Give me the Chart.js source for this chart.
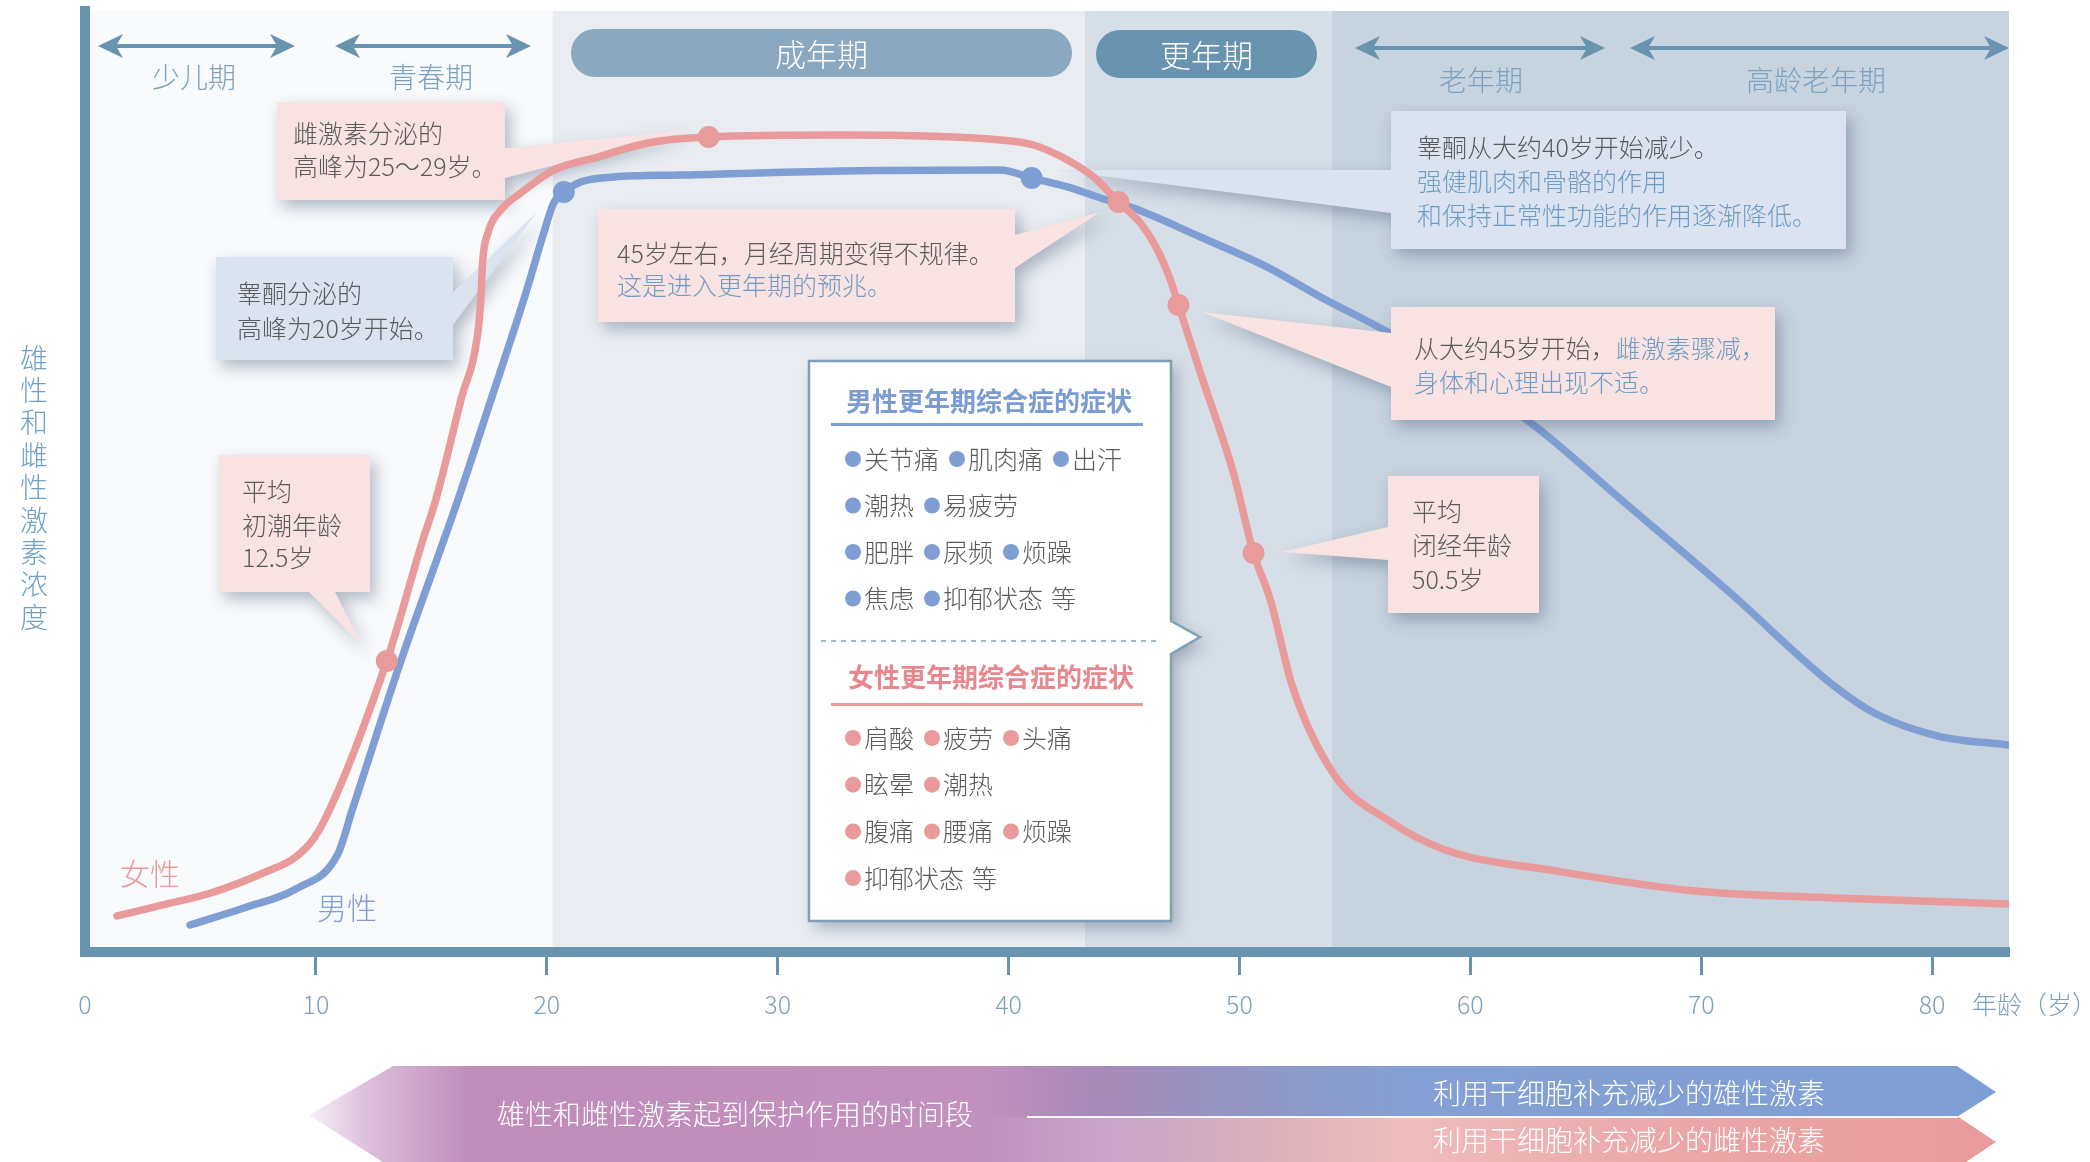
<!DOCTYPE html>
<html><head><meta charset="utf-8">
<script src="https://cdn.jsdelivr.net/npm/chart.js@4.4.0/dist/chart.umd.min.js"></script>
<style>html,body{margin:0;padding:0;background:#fff;overflow:hidden}#wrap{width:2090px;height:1162px;position:relative}</style>
</head><body><div id="wrap"><canvas id="c" width="2090" height="1162"></canvas></div>
<script>
// ---------------- data ----------------
const xTicks = [0, 10, 20, 30, 40, 50, 60, 70, 80];
const femaleAge   = [1.39, 3.33, 5.45, 7.92, 9.13, 10.17, 13.07, 14.59, 15.19, 16.28, 17.01, 17.14, 17.23, 17.45, 18.01, 18.87, 20.30, 22.21, 24.37, 27.01, 32.81, 39.65, 41.08, 42.55, 43.68, 44.76, 45.71, 46.45, 47.01, 47.36, 48.31, 49.74, 50.61, 51.34, 52.29, 54.11, 56.49, 58.92, 63.72, 69.74, 75.76, 83.29];
const femaleLevel = [3.83, 4.99, 6.27, 8.61, 10.10, 13.07, 30.92, 43.46, 48.03, 58.66, 65.78, 69.29, 73.54, 76.41, 78.85, 80.66, 83.10, 84.48, 85.97, 86.61, 86.82, 86.29, 85.76, 84.17, 82.36, 79.70, 77.47, 74.60, 71.41, 68.76, 61.53, 50.90, 42.40, 37.41, 28.27, 18.81, 13.92, 10.84, 8.61, 6.48, 5.74, 5.10];
const maleAge   = [4.55, 7.01, 9.13, 10.95, 11.56, 13.68, 16.15, 17.58, 19.00, 19.87, 20.30, 20.74, 21.47, 22.90, 25.80, 32.81, 39.65, 41.00, 42.55, 43.98, 45.41, 48.31, 51.21, 53.51, 56.49, 62.51, 66.75, 71.26, 75.76, 77.58, 80.26, 83.29];
const maleLevel = [2.87, 4.78, 6.70, 10.41, 14.98, 30.92, 48.03, 58.66, 69.29, 76.41, 79.60, 80.77, 81.83, 82.36, 82.57, 83.00, 83.10, 82.25, 81.30, 80.13, 79.06, 75.98, 72.79, 69.61, 65.78, 56.43, 47.61, 38.15, 28.27, 25.29, 22.95, 22.00];
const femaleMarkerAge   = [13.07, 27.01, 44.76, 47.36, 50.61];
const femaleMarkerLevel = [30.92, 86.61, 79.70, 68.76, 42.40];
const maleMarkerAge   = [20.74, 41.00];
const maleMarkerLevel = [80.77, 82.25];
const stageBounds = [0, 20.26, 43.3, 54.0, 83.33];
const stageColors = ['#f8fafc', '#e9edf2', '#d6dfe8', '#c7d3df'];
const maleSymptoms = [["关节痛", "肌肉痛", "出汗"], ["潮热", "易疲劳"], ["肥胖", "尿频", "烦躁"], ["焦虑", "抑郁状态"]];
const femaleSymptoms = [["肩酸", "疲劳", "头痛"], ["眩晕", "潮热"], ["腹痛", "腰痛", "烦躁"], ["抑郁状态"]];

// ---------------- style ----------------
const FONT = "'Noto Sans CJK SC','Noto Sans',sans-serif";
const PINK = '#e99a9b', BLUE = '#7f9fd4', AXIS = '#6994b0';
const GREY = '#5b5b5b', BTXT = '#6f9cc3', LABEL = '#7ca2c0';
const PINKBOX = '#f8e2e2', BLUEBOX = '#dbe3f1';

function font(size, weight) { return (weight || 300) + ' ' + size + 'px ' + FONT; }
function poly(ctx, pts) { ctx.beginPath(); ctx.moveTo(pts[0][0], pts[0][1]); for (let i = 1; i < pts.length; i++) ctx.lineTo(pts[i][0], pts[i][1]); ctx.closePath(); }
function shadowFill(ctx, pts, color) {
  ctx.save();
  ctx.shadowColor = 'rgba(60,80,105,0.38)'; ctx.shadowBlur = 16; ctx.shadowOffsetX = 5; ctx.shadowOffsetY = 7;
  poly(ctx, pts); ctx.fillStyle = color; ctx.fill();
  ctx.restore();
}
function segs(ctx, x, y, parts, size) {
  ctx.font = font(size); ctx.textBaseline = 'middle'; ctx.textAlign = 'left';
  for (const [t, c] of parts) { ctx.fillStyle = c; ctx.fillText(t, x, y); x += ctx.measureText(t).width; }
}
function box(ctx, pts, color, x, lines, size) {
  shadowFill(ctx, pts, color);
  for (const [y, parts] of lines) segs(ctx, x, y, parts, size || 25);
}
function dblArrow(ctx, x0, x1, y) {
  ctx.save(); ctx.strokeStyle = AXIS; ctx.fillStyle = AXIS; ctx.lineWidth = 4;
  ctx.beginPath(); ctx.moveTo(x0 + 12, y); ctx.lineTo(x1 - 12, y); ctx.stroke();
  poly(ctx, [[x0, y], [x0 + 25, y - 12], [x0 + 18, y], [x0 + 25, y + 12]]); ctx.fill();
  poly(ctx, [[x1, y], [x1 - 25, y - 12], [x1 - 18, y], [x1 - 25, y + 12]]); ctx.fill();
  ctx.restore();
}
function pill(ctx, x0, y0, x1, y1, color, text) {
  const r = (y1 - y0) / 2;
  ctx.save(); ctx.fillStyle = color; ctx.beginPath();
  ctx.moveTo(x0 + r, y0); ctx.lineTo(x1 - r, y0); ctx.arc(x1 - r, y0 + r, r, -Math.PI / 2, Math.PI / 2);
  ctx.lineTo(x0 + r, y1); ctx.arc(x0 + r, y0 + r, r, Math.PI / 2, Math.PI * 1.5); ctx.closePath(); ctx.fill();
  ctx.fillStyle = '#ffffff'; ctx.font = font(31); ctx.textAlign = 'center'; ctx.textBaseline = 'middle';
  ctx.fillText(text, (x0 + x1) / 2, (y0 + y1) / 2 + 1);
  ctx.restore();
}
function centerText(ctx, t, x, y, size, color, weight) {
  ctx.font = font(size, weight); ctx.fillStyle = color; ctx.textAlign = 'center'; ctx.textBaseline = 'middle'; ctx.fillText(t, x, y);
}
function symptomRows(ctx, rows, y0, dy, color) {
  ctx.font = font(25); ctx.textBaseline = 'middle'; ctx.textAlign = 'left';
  rows.forEach((row, ri) => {
    const y = y0 + ri * dy; let bx = 853;
    row.forEach((item) => {
      ctx.fillStyle = color; ctx.beginPath(); ctx.arc(bx, y, 8, 0, Math.PI * 2); ctx.fill();
      ctx.fillStyle = GREY; ctx.fillText(item, bx + 11, y);
      bx = bx + 11 + ctx.measureText(item).width + 18;
    });
    if (ri === rows.length - 1) { ctx.fillStyle = GREY; ctx.fillText('等', bx - 10, y); }
  });
}

const deco = {
  id: 'deco',
  beforeDraw(chart) {
    const { ctx, chartArea: a, scales: { x } } = chart;
    ctx.save();
    ctx.fillStyle = '#ffffff'; ctx.fillRect(0, 0, chart.width, chart.height);
    for (let i = 0; i < stageColors.length; i++) {
      const l = x.getPixelForValue(stageBounds[i]), r = x.getPixelForValue(stageBounds[i + 1]);
      ctx.fillStyle = stageColors[i]; ctx.fillRect(l, a.top, r - l, a.bottom - a.top);
    }
    ctx.restore();
  },
  beforeDatasetsDraw(chart) {
    const ctx = chart.ctx; ctx.save();
    dblArrow(ctx, 98, 295, 46); centerText(ctx, '少儿期', 194, 77, 28, LABEL);
    dblArrow(ctx, 335, 531, 46); centerText(ctx, '青春期', 431, 77, 28, LABEL);
    dblArrow(ctx, 1355, 1605, 48); centerText(ctx, '老年期', 1481, 80, 28, LABEL);
    dblArrow(ctx, 1630, 2009, 48); centerText(ctx, '高龄老年期', 1816, 80, 28, LABEL);
    pill(ctx, 571, 29, 1072, 77, '#8aa8bf', '成年期');
    pill(ctx, 1096, 30, 1317, 78, '#6894b0', '更年期');
    box(ctx, [[277,102],[505,102],[505,148],[690,130],[505,178],[505,200],[277,200]], PINKBOX, 293,
      [[133, [['雌激素分泌的', GREY]]], [166, [['高峰为25～29岁。', GREY]]]]);
    box(ctx, [[216,257],[453,257],[453,292],[537,212],[453,325],[453,360],[216,360]], BLUEBOX, 237,
      [[293, [['睾酮分泌的', GREY]]], [328, [['高峰为20岁开始。', GREY]]]]);
    box(ctx, [[598,209],[1015,209],[1015,235],[1100,212],[1015,268],[1015,322],[598,322]], PINKBOX, 617,
      [[253, [['45岁左右，月经周期变得不规律。', GREY]]], [285, [['这是进入更年期的预兆。', BTXT]]]]);
    box(ctx, [[1391,111],[1846,111],[1846,249],[1391,249],[1391,213],[1055,170],[1391,170]], BLUEBOX, 1417,
      [[147, [['睾酮从大约40岁开始减少。', GREY]]], [181, [['强健肌肉和骨骼的作用', BTXT]]], [215, [['和保持正常性功能的作用逐渐降低。', BTXT]]]]);
    box(ctx, [[1388,476],[1539,476],[1539,613],[1388,613],[1388,560],[1282,552],[1388,527]], PINKBOX, 1412,
      [[511, [['平均', GREY]]], [545, [['闭经年龄', GREY]]], [579, [['50.5岁', GREY]]]]);
    box(ctx, [[219,455],[370,455],[370,592],[335,592],[362,645],[309,592],[219,592]], PINKBOX, 242,
      [[491, [['平均', GREY]]], [525, [['初潮年龄', GREY]]], [557, [['12.5岁', GREY]]]]);
    const sb = [[809,361],[1171,361],[1171,621],[1200,637],[1171,654],[1171,921],[809,921]];
    shadowFill(ctx, sb, '#ffffff');
    poly(ctx, sb); ctx.strokeStyle = '#7ea0b9'; ctx.lineWidth = 2.5; ctx.stroke();
    centerText(ctx, '男性更年期综合症的症状', 989, 401, 26, '#7b9bd3', 700);
    ctx.fillStyle = BLUE; ctx.fillRect(831, 423, 312, 3);
    symptomRows(ctx, maleSymptoms, 459, 46.5, BLUE);
    ctx.save(); ctx.setLineDash([5, 5]); ctx.strokeStyle = '#7fa3bd'; ctx.lineWidth = 1.5;
    ctx.beginPath(); ctx.moveTo(821, 641); ctx.lineTo(1160, 641); ctx.stroke(); ctx.restore();
    centerText(ctx, '女性更年期综合症的症状', 991, 677, 26, '#e8888e', 700);
    ctx.fillStyle = PINK; ctx.fillRect(831, 703, 312, 3);
    symptomRows(ctx, femaleSymptoms, 738, 46.7, PINK);
    ctx.restore();
  },
  afterDatasetsDraw(chart) {
    const ctx = chart.ctx; ctx.save();
    box(ctx, [[1391,307],[1775,307],[1775,420],[1391,420],[1391,387],[1202,312],[1391,333]], PINKBOX, 1414,
      [[348, [['从大约45岁开始，', GREY], ['雌激素骤减，', BTXT]]], [382, [['身体和心理出现不适。', BTXT]]]]);
    ctx.restore();
  },
  afterDraw(chart) {
    const ctx = chart.ctx; const a = chart.chartArea; ctx.save();
    ctx.fillStyle = AXIS; ctx.fillRect(80, a.bottom - 5, 10, 10);
    const yt = '雄性和雌性激素浓度';
    for (let i = 0; i < yt.length; i++) centerText(ctx, yt[i], 34, 358 + i * 32.4, 28, '#6ea0c8');
    centerText(ctx, '女性', 150, 874, 30, PINK);
    centerText(ctx, '男性', 347, 908, 30, BLUE);
    ctx.font = font(25); ctx.fillStyle = '#7b9fbc'; ctx.textAlign = 'left'; ctx.textBaseline = 'middle';
    ctx.fillText('年龄（岁）', 1972, 1004);
    const g1 = ctx.createLinearGradient(309, 0, 1996, 0);
    g1.addColorStop(0, '#f7f1f7'); g1.addColorStop(0.035, '#dcbfda'); g1.addColorStop(0.095, '#c08cba');
    g1.addColorStop(0.4, '#c190bd'); g1.addColorStop(0.47, '#a68ab8'); g1.addColorStop(0.57, '#8f98c8');
    g1.addColorStop(0.65, '#84a0d4'); g1.addColorStop(1, '#7f9fd4');
    const g2 = ctx.createLinearGradient(309, 0, 1996, 0);
    g2.addColorStop(0, '#f7f1f7'); g2.addColorStop(0.035, '#dcbfda'); g2.addColorStop(0.095, '#c08cba');
    g2.addColorStop(0.4, '#c190bd'); g2.addColorStop(0.48, '#c9a6c8'); g2.addColorStop(0.57, '#ddb0bb');
    g2.addColorStop(0.65, '#efbcbc'); g2.addColorStop(0.8, '#eba8a9'); g2.addColorStop(1, '#e99a9b');
    poly(ctx, [[309,1115],[1957,1116],[1996,1142],[1957,1168],[392,1168]]); ctx.fillStyle = g2; ctx.fill();
    poly(ctx, [[393,1066],[1957,1066],[1996,1092],[1957,1117],[311,1117],[309,1115]]); ctx.fillStyle = g1; ctx.fill();
    ctx.strokeStyle = 'rgba(255,255,255,0.9)'; ctx.lineWidth = 2;
    ctx.beginPath(); ctx.moveTo(1027, 1117); ctx.lineTo(1958, 1117); ctx.stroke();
    centerText(ctx, '雄性和雌性激素起到保护作用的时间段', 735, 1114, 28, '#ffffff');
    centerText(ctx, '利用干细胞补充减少的雄性激素', 1629, 1093, 28, '#ffffff');
    centerText(ctx, '利用干细胞补充减少的雌性激素', 1629, 1140, 28, '#ffffff');
    ctx.restore();
  }
};

const pts = (xs, ys) => xs.map((v, i) => ({ x: v, y: ys[i] }));
new Chart(document.getElementById('c'), {
  type: 'line',
  data: {
    datasets: [
      { label: '女性标记', type: 'scatter', data: pts(femaleMarkerAge, femaleMarkerLevel), pointRadius: 11, pointHoverRadius: 11, pointBackgroundColor: PINK, pointBorderWidth: 0, showLine: false, order: 0 },
      { label: '男性标记', type: 'scatter', data: pts(maleMarkerAge, maleMarkerLevel), pointRadius: 11, pointHoverRadius: 11, pointBackgroundColor: BLUE, pointBorderWidth: 0, showLine: false, order: 0 },
      { label: '女性', data: pts(femaleAge, femaleLevel), borderColor: PINK, borderWidth: 7.5, pointRadius: 0, cubicInterpolationMode: 'monotone', fill: false, borderCapStyle: 'round', borderJoinStyle: 'round', order: 1 },
      { label: '男性', data: pts(maleAge, maleLevel), borderColor: BLUE, borderWidth: 7.5, pointRadius: 0, cubicInterpolationMode: 'monotone', fill: false, borderCapStyle: 'round', borderJoinStyle: 'round', order: 2 }
    ]
  },
  options: {
    responsive: false, animation: false, devicePixelRatio: 1,
    layout: { padding: { left: 85, right: 81, top: 11, bottom: 0 } },
    plugins: { legend: { display: false }, tooltip: { enabled: false } },
    scales: {
      x: {
        type: 'linear', min: 0, max: 83.33,
        afterBuildTicks: (s) => { s.ticks = xTicks.map(v => ({ value: v })); },
        afterFit: (s) => { s.height = 210; },
        grid: { drawOnChartArea: false, drawTicks: true, tickLength: 23, tickWidth: 3,
          tickColor: (c) => (c.tick && c.tick.value === 0) ? 'rgba(0,0,0,0)' : AXIS },
        border: { display: true, width: 10, color: AXIS },
        ticks: { color: '#7b9fbc', font: { size: 25, family: FONT, weight: 300 }, padding: 14, maxRotation: 0, autoSkip: false }
      },
      y: {
        type: 'linear', min: 0, max: 100,
        afterFit: (s) => { s.width = 0; },
        ticks: { display: false },
        grid: { drawOnChartArea: false, drawTicks: false },
        border: { display: true, width: 10, color: AXIS }
      }
    }
  },
  plugins: [deco]
});
</script></body></html>
